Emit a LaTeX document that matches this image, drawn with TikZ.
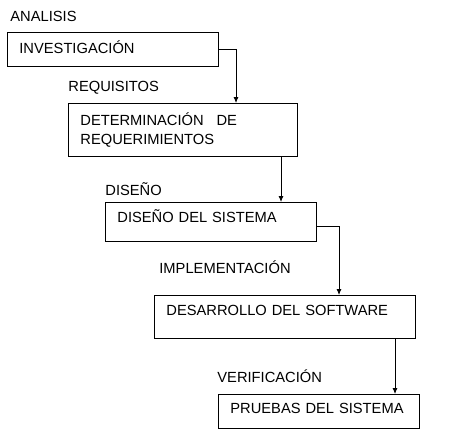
\documentclass[tikz,border=0pt]{standalone}
\usepackage{fontspec}
\setmainfont{Liberation Sans}
\usetikzlibrary{arrows.meta}

\begin{document}
\begin{tikzpicture}[x=1pt, y=-1pt, >={Latex[length=6pt,width=5pt]}, line width=0.8pt,
    font=\fontsize{14.7}{19}\selectfont,
    caja/.style={draw, anchor=north west, inner xsep=12pt, inner ysep=0pt, align=left},
    fase/.style={anchor=base west, inner sep=0pt}]
    \useasboundingbox (0,0) rectangle (457,445);

% fases
    \node[fase] (analisis) at (10, 21.7) {ANALISIS};
    \node[fase] (requisitos) at (68, 91) {REQUISITOS};
    \node[fase] (diseno) at (105, 195) {DISEÑO};
    \node[fase] (implementacion) at (159, 273) {IMPLEMENTACIÓN};
    \node[fase] (verificacion) at (217, 382) {VERIFICACIÓN};

% cajas
    \node[caja, text width=187pt, text height=20.7pt, text depth=13.3pt] (inv) at (7, 32) {INVESTIGACIÓN};
    \node[caja, text width=205pt, minimum height=53pt] (req) at (68, 103) {DETERMINACIÓN\hspace{8pt} DE\\REQUERIMIENTOS};
    \node[caja, text width=187pt, text height=20pt, text depth=19pt] (dis) at (105, 202) {DISEÑO DEL SISTEMA};
    \node[caja, text width=237pt, text height=20pt, text depth=23pt] (des) at (154, 295) {DESARROLLO DEL SOFTWARE};
    \node[caja, text width=177pt, text height=19pt, text depth=15pt] (pru) at (218, 394) {PRUEBAS DEL SISTEMA};

% flechas
    \coordinate (e1) at ([xshift=168pt]req.north west);
    \coordinate (e2) at ([xshift=176pt]dis.north west);
    \coordinate (e3) at ([xshift=185pt]des.north west);
    \coordinate (e4) at ([xshift=177pt]pru.north west);

    \draw[->] (inv.east) -| (e1);
    \draw[->] (req.south -| e2) -- (e2);
    \draw[->] ([yshift=-4pt]dis.east) -| (e3);
    \draw[->] (des.south -| e4) -- (e4);

\end{tikzpicture}
\end{document}
